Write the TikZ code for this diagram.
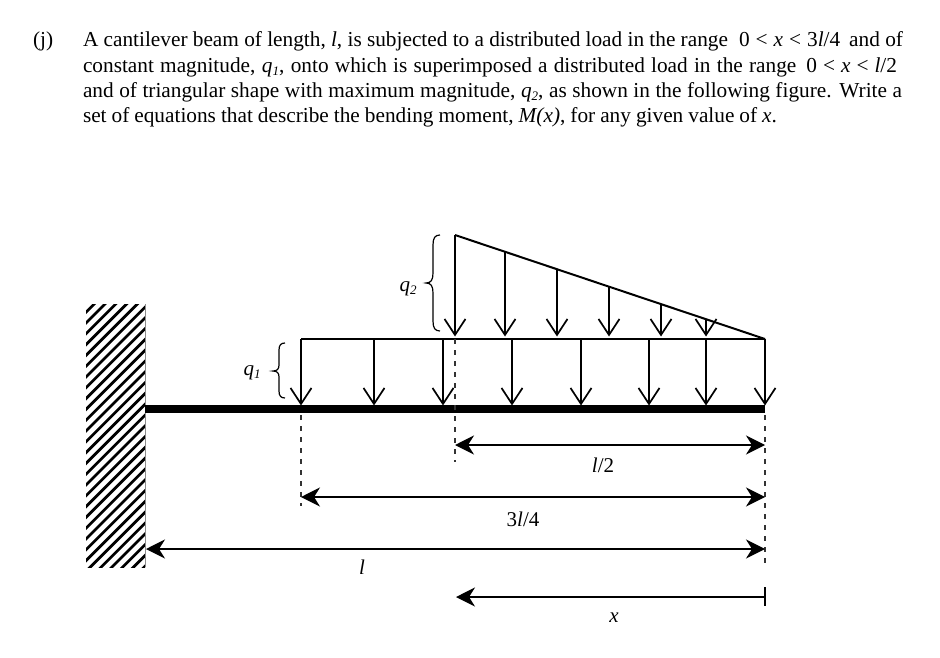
\documentclass[tikz,border=0pt]{standalone}
\usepackage{fontspec}
\setmainfont{Liberation Serif}
\usetikzlibrary{arrows.meta}
\newcommand{\qi}[1]{\textit{q}\raisebox{-0.25ex}{\fontsize{13}{13}\selectfont\textit{#1}}}
\newcommand{\tline}[1]{\fontsize{21.3}{26}\selectfont #1}
\newcommand{\lt}{\hspace{6pt}<\hspace{6pt}}
\tikzset{
  x=1pt,y=-1pt,
  txt/.style={anchor=base west,inner sep=0pt,outer sep=0pt},
  lab/.style={inner sep=0pt,outer sep=0pt,font=\fontsize{21}{24}\selectfont},
  pt/.style={inner sep=0pt,outer sep=0pt,minimum size=0pt},
  load/.style={line width=1.7pt,-{Straight Barb[length=16pt,width=21pt,line width=1.7pt]},shorten >=0.5pt},
  edge line/.style={line width=2pt},
  beam/.style={line width=8pt},
  guide/.style={line width=1.2pt,dash pattern=on 5pt off 6pt,black!80},
  dim/.style={line width=1.4pt,{Stealth[length=19pt,width=19pt,inset=6pt]}-{Stealth[length=19pt,width=19pt,inset=6pt]}},
  dimr/.style={line width=1.4pt,{Stealth[length=19pt,width=19pt,inset=6pt]}-},
  brace/.style={line width=1.2pt},
  hatch/.style={line width=2.7pt}
}
\begin{document}
\begin{tikzpicture}
\useasboundingbox (0,0) rectangle (940,658);
\fill[white] (0,0) rectangle (940,658);
% question text
\node[txt] (num) at (33,47) {\tline{(j)}};
\node[txt] (la) at (83,47) {\tline{\makebox[820pt][s]{A cantilever beam of length, \textit{l}, is subjected to a distributed load in the range\hspace{11pt}0\lt\textit{x}\lt 3\textit{l}/4\hspace{9pt}and of}}};
\node[txt] (lb) at (83,73) {\tline{\makebox[814pt][s]{constant magnitude, \qi{1}, onto which is superimposed a distributed load in the range\hspace{10pt}0\lt\textit{x}\lt\textit{l}/2}}};
\node[txt] (lc) at (83,98) {\tline{\makebox[819pt][s]{and of triangular shape with maximum magnitude, \qi{2}, as shown in the following figure. Write a}}};
\node[txt] (ld) at (83,123) {\tline{\makebox[694pt][s]{set of equations that describe the bending moment, \textit{M(x)}, for any given value of \textit{x}.}}};
% wall
\begin{scope}
\clip (86,304) rectangle (145,567);
\foreach \k in {0,...,32}{
  \draw[hatch] (80,{296.6+10.8*\k}) -- ++(70,-70);
}
\end{scope}
\draw[line width=0.8pt,black!45] (145.3,304) -- (145.3,567);
% anchor points
\node[pt] (wb) at (145,409) {};
\node[pt] (be) at (765,409) {};
\node[pt] (t1) at (301,339) {};
\node[pt] (t2) at (765,339) {};
\node[pt] (p0) at (455,235) {};
% beam and load outlines
\draw[beam] (wb) -- (be);
\draw[edge line] (t1) -- (t2);
\draw[edge line] (p0) -- (t2);
% uniform load
\foreach \x/\n in {301/a,374/b,443/c,512/d,581/e,649/f,706/g,765/h}{
  \node[pt] (u\n) at (\x,339) {};
  \node[pt] (v\n) at (\x,406) {};
  \draw[load] (u\n) -- (v\n);
}
% triangular load
\foreach \x/\n in {455/a,505/b,557/c,609/d,661/e,706/f}{
  \node[pt] (r\n) at (\x,{235+(\x-455)*0.3355}) {};
  \node[pt] (s\n) at (\x,337) {};
  \draw[load] (r\n) -- (s\n);
}
% guides
\node[pt] (g1a) at (301,415) {};
\node[pt] (g1b) at (301,506) {};
\node[pt] (g2a) at (455,339) {};
\node[pt] (g2b) at (455,462) {};
\node[pt] (g3a) at (765,415) {};
\node[pt] (g3b) at (765,568) {};
\draw[guide] (g1a) -- (g1b);
\draw[guide] (g2a) -- (g2b);
\draw[guide] (g3a) -- (g3b);
% dimensions
\node[pt] (da) at (455,445) {};
\node[pt] (db) at (765,445) {};
\node[pt] (dc) at (301,497) {};
\node[pt] (dd) at (765,497) {};
\node[pt] (de) at (146,549) {};
\node[pt] (df) at (765,549) {};
\node[pt] (dg) at (456,597) {};
\node[pt] (dh) at (765,597) {};
\node[pt] (di) at (765,587) {};
\node[pt] (dj) at (765,606) {};
\draw[dim] (da) -- (db);
\draw[dim] (dc) -- (dd);
\draw[dim] (de) -- (df);
\draw[dimr] (dg) -- (dh);
\draw[line width=1.4pt] (di) -- (dj);
\node[lab] (l2) at (603,465) {\textit{l}/2};
\node[lab] (l34) at (523,519) {3\textit{l}/4};
\node[lab] (ll) at (362,567) {\textit{l}};
\node[lab] (lx) at (614,618) {\textit{x}};
\node[lab] (q2) at (408,289) {\qi{2}};
\node[lab] (q1) at (252,373) {\qi{1}};
% braces
\draw[brace] (440,235) .. controls (435,235) and (433,238) .. (433,245)
  -- (433,273) .. controls (433,280) and (431,283) .. (426,283)
  .. controls (431,283) and (433,286) .. (433,293)
  -- (433,321) .. controls (433,328) and (435,331) .. (440,331);
\draw[brace] (285,343) .. controls (281,343) and (279,345) .. (279,350)
  -- (279,365) .. controls (279,369) and (277,371) .. (273,371)
  .. controls (277,371) and (279,373) .. (279,377)
  -- (279,391) .. controls (279,396) and (281,398) .. (285,398);
\end{tikzpicture}
\end{document}
